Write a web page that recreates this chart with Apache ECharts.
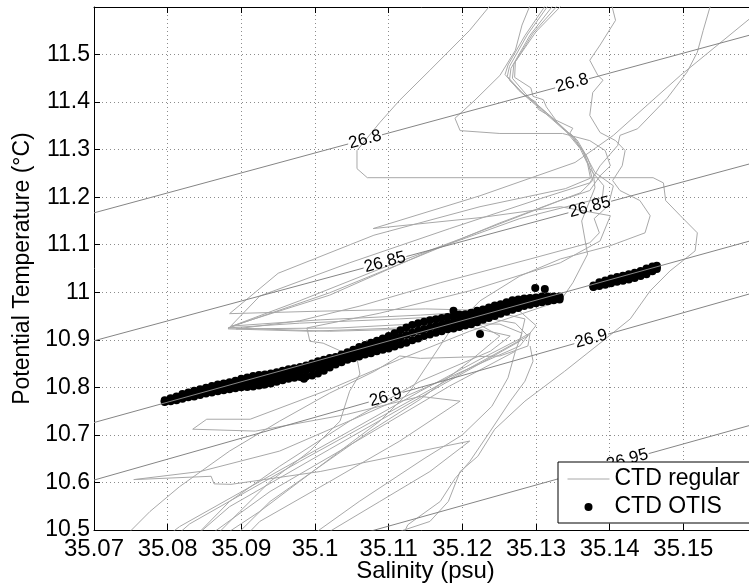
<!DOCTYPE html>
<html><head><meta charset="utf-8">
<script src="https://cdn.jsdelivr.net/npm/echarts@6/dist/echarts.min.js"></script>
<style>html,body{margin:0;padding:0;background:#fff}#c{width:749px;height:587px}</style>
</head><body><div id="c"></div>
<script>
// ---- axis settings ----
const salMin = 35.07, salMax = 35.16, salStep = 0.01;
const tempMin = 10.5, tempMax = 11.6, tempStep = 0.1;

// ---- CTD regular casts (salinity, potential temperature) ----
const cast01 = [[35.1322,11.615],[35.1288,11.541],[35.1264,11.475],[35.1261,11.454],[35.1281,11.420],[35.1315,11.376],[35.1346,11.332],[35.1363,11.298],[35.1372,11.266],[35.1377,11.235],[35.1360,11.209],[35.1251,11.146],[35.1143,11.077],[35.1020,10.999],[35.0882,10.925],[35.0979,10.935],[35.1115,10.944],[35.1210,10.952],[35.1272,10.935],[35.1289,10.908],[35.1148,10.788],[35.0979,10.644],[35.0830,10.513],[35.0810,10.486]];
const cast02 = [[35.1329,11.615],[35.1292,11.541],[35.1266,11.471],[35.1264,11.446],[35.1285,11.414],[35.1300,11.400],[35.1303,11.385],[35.1319,11.370],[35.1349,11.328],[35.1365,11.294],[35.1373,11.260],[35.1392,11.224],[35.1390,11.199],[35.1278,11.155],[35.1156,11.087],[35.1020,10.994],[35.0887,10.929],[35.1007,10.942],[35.1143,10.952],[35.1238,10.961],[35.1285,10.944],[35.1278,10.897],[35.1170,10.803],[35.1020,10.670],[35.0884,10.549],[35.0837,10.486]];
const cast03 = [[35.1336,11.615],[35.1296,11.545],[35.1270,11.480],[35.1268,11.450],[35.1289,11.412],[35.1323,11.366],[35.1353,11.323],[35.1368,11.287],[35.1380,11.252],[35.1405,11.224],[35.1398,11.182],[35.1379,11.155],[35.1386,11.125],[35.1373,11.104],[35.1292,11.070],[35.1170,11.020],[35.1061,10.971],[35.0979,10.940],[35.0893,10.923],[35.1034,10.925],[35.1156,10.935],[35.1251,10.933],[35.1281,10.914],[35.1272,10.876],[35.1183,10.803],[35.1061,10.691],[35.0939,10.581],[35.0864,10.497],[35.0857,10.481]];
const cast04 = [[35.1244,11.615],[35.1210,11.551],[35.1156,11.467],[35.1115,11.404],[35.1088,11.357],[35.1068,11.319],[35.1057,11.298],[35.1057,11.260],[35.1071,11.241],[35.1224,11.241],[35.1387,11.241],[35.1459,11.241],[35.1473,11.230],[35.1476,11.193],[35.1496,11.161],[35.1519,11.125],[35.1516,11.087],[35.1482,11.045],[35.1455,11.003],[35.1428,10.944],[35.1387,10.893],[35.1339,10.834],[35.1285,10.771],[35.1244,10.712],[35.1221,10.655],[35.1197,10.623],[35.1181,10.560],[35.1156,10.518],[35.1115,10.497],[35.1102,10.486]];
const cast05 = [[35.1604,11.593],[35.1496,11.456],[35.1405,11.330],[35.1353,11.273],[35.1224,11.203],[35.1079,11.134],[35.1224,11.157],[35.1333,11.180],[35.1401,11.161],[35.1387,11.108],[35.1333,11.062],[35.1210,11.003],[35.1088,10.956],[35.0989,10.925],[35.0993,10.897],[35.1011,10.893],[35.1057,10.861],[35.1061,10.828],[35.1047,10.792],[35.1034,10.729],[35.0993,10.666],[35.0939,10.602],[35.0898,10.539],[35.0871,10.497],[35.0860,10.476]];
const cast06 = [[35.1401,11.615],[35.1408,11.572],[35.1387,11.520],[35.1373,11.488],[35.1384,11.456],[35.1391,11.446],[35.1377,11.420],[35.1373,11.372],[35.1387,11.336],[35.1408,11.319],[35.1421,11.298],[35.1417,11.266],[35.1404,11.235],[35.1414,11.214],[35.1441,11.193],[35.1455,11.161],[35.1448,11.125],[35.1401,11.098],[35.1333,11.070],[35.1278,11.034],[35.1224,10.982],[35.1183,10.918],[35.1156,10.855],[35.1129,10.792],[35.1088,10.729],[35.1034,10.666],[35.0979,10.602],[35.0925,10.539],[35.0884,10.497],[35.0878,10.476]];
const cast07 = [[35.1539,11.615],[35.1527,11.551],[35.1519,11.505],[35.1505,11.463],[35.1478,11.408],[35.1438,11.344],[35.1414,11.330],[35.1411,11.309],[35.1387,11.266],[35.1373,11.230],[35.1306,11.197],[35.1183,11.134],[35.1047,11.062],[35.0925,10.992],[35.0882,10.923],[35.0993,10.918],[35.1115,10.925],[35.1224,10.931],[35.1251,10.908],[35.1210,10.855],[35.1143,10.775],[35.1075,10.708],[35.1007,10.634],[35.0939,10.560],[35.0898,10.497],[35.0887,10.476]];
const cast08 = [[35.1342,11.615],[35.1300,11.548],[35.1272,11.485],[35.1271,11.452],[35.1293,11.430],[35.1296,11.412],[35.1310,11.405],[35.1314,11.390],[35.1327,11.362],[35.1350,11.345],[35.1346,11.335],[35.1356,11.320],[35.1370,11.283],[35.1378,11.248],[35.1380,11.220],[35.1362,11.150],[35.1370,11.080],[35.1350,11.020],[35.1333,10.982],[35.1210,10.918],[35.1115,10.859],[35.1020,10.796],[35.0912,10.733],[35.0853,10.733],[35.0834,10.712],[35.0919,10.708],[35.1043,10.743],[35.1143,10.781],[35.1197,10.771],[35.1115,10.687],[35.1020,10.602],[35.0925,10.518],[35.0905,10.486]];
const cast09 = [[35.1318,11.615],[35.1285,11.540],[35.1262,11.478],[35.1258,11.458],[35.1277,11.424],[35.1310,11.380],[35.1342,11.336],[35.1360,11.302],[35.1370,11.270],[35.1374,11.240],[35.1340,11.218],[35.1224,11.180],[35.1080,11.120],[35.0950,11.040],[35.0884,10.955],[35.1000,10.960],[35.1150,10.965],[35.1278,10.960],[35.1300,10.930],[35.1278,10.887],[35.1170,10.813],[35.1061,10.739],[35.0952,10.666],[35.0844,10.623],[35.0754,10.606],[35.0859,10.613],[35.0863,10.597],[35.0886,10.596],[35.1007,10.623],[35.1143,10.666],[35.1210,10.687],[35.1156,10.623],[35.1088,10.560],[35.1020,10.497],[35.1009,10.476]];
const cast10 = [[35.0790,10.476],[35.0816,10.507],[35.0925,10.602],[35.1047,10.708],[35.1143,10.792],[35.1224,10.859],[35.1278,10.902],[35.1292,10.914],[35.1289,10.887],[35.1251,10.866],[35.1143,10.861],[35.1115,10.866],[35.1081,10.834],[35.1020,10.788],[35.0952,10.729],[35.0884,10.666],[35.0816,10.591],[35.0776,10.539],[35.0749,10.497],[35.0735,10.476]];
const cast11 = [[35.1115,10.476],[35.1126,10.511],[35.1170,10.560],[35.1190,10.608],[35.1210,10.644],[35.1238,10.708],[35.1265,10.771],[35.1285,10.813],[35.1296,10.855],[35.1292,10.887]];
const cast12 = [[35.1295,11.615],[35.1281,11.562],[35.1272,11.509],[35.1251,11.456],[35.1217,11.404],[35.1190,11.366],[35.1197,11.340],[35.1251,11.334],[35.1336,11.334],[35.1373,11.319],[35.1394,11.298],[35.1401,11.266],[35.1387,11.245],[35.1373,11.214],[35.1333,11.193],[35.1197,11.112],[35.1088,11.049],[35.0979,10.982],[35.0898,10.935],[35.0884,10.925],[35.1020,10.918],[35.1143,10.923],[35.1210,10.927],[35.1265,10.908],[35.1238,10.876],[35.1143,10.813],[35.1047,10.729],[35.0952,10.634],[35.0884,10.560],[35.0844,10.497],[35.0837,10.476]];
const cast13 = [[35.0995,10.476],[35.1003,10.497],[35.1060,10.560],[35.1148,10.650],[35.1200,10.700],[35.1240,10.760],[35.1262,10.820],[35.1272,10.876]];
const ctdCasts = [cast01,cast02,cast03,cast04,cast05,cast06,cast07,cast08,cast09,cast10,cast11,cast12,cast13];

// ---- CTD OTIS samples: main band (salinity columns, low / mid / high temperature) ----
const otisSal = [35.0796,35.0804,35.0812,35.0820,35.0828,35.0836,35.0844,35.0852,35.0860,35.0868,
35.0876,35.0884,35.0892,35.0900,35.0908,35.0916,35.0924,35.0932,35.0940,35.0948,
35.0956,35.0964,35.0972,35.0980,35.0988,35.0996,35.1004,35.1012,35.1020,35.1028,
35.1036,35.1044,35.1052,35.1060,35.1068,35.1076,35.1084,35.1092,35.1100,35.1108,
35.1116,35.1124,35.1132,35.1140,35.1148,35.1156,35.1164,35.1172,35.1180,35.1188,
35.1196,35.1204,35.1212,35.1220,35.1228,35.1236,35.1244,35.1252,35.1260,35.1268,
35.1276,35.1284,35.1292,35.1300,35.1308,35.1316,35.1324,35.1332];
const otisTempLow = [10.769,10.771,10.773,10.776,10.779,10.781,10.784,10.787,10.789,10.792,
10.794,10.796,10.798,10.800,10.801,10.802,10.804,10.806,10.808,10.812,
10.815,10.818,10.820,10.822,10.823,10.825,10.829,10.835,10.842,10.848,
10.853,10.858,10.861,10.865,10.869,10.872,10.876,10.879,10.882,10.886,
10.890,10.894,10.899,10.903,10.908,10.911,10.915,10.918,10.922,10.924,
10.927,10.930,10.933,10.937,10.942,10.946,10.950,10.955,10.959,10.963,
10.967,10.971,10.974,10.977,10.979,10.981,10.983,10.985];
const otisTempMid = [10.771,10.774,10.777,10.781,10.784,10.787,10.790,10.793,10.796,10.799,
10.801,10.803,10.806,10.809,10.811,10.813,10.815,10.817,10.819,10.822,
10.825,10.828,10.830,10.833,10.836,10.839,10.843,10.847,10.852,10.856,
10.861,10.866,10.870,10.875,10.879,10.883,10.887,10.891,10.895,10.900,
10.905,10.910,10.915,10.919,10.923,10.926,10.929,10.932,10.935,10.937,
10.940,10.942,10.945,10.949,10.953,10.957,10.961,10.965,10.969,10.973,
10.976,10.979,10.981,10.983,10.985,10.986,10.987,10.988];
const otisTempHigh = [10.773,10.777,10.781,10.786,10.789,10.793,10.796,10.799,10.803,10.806,
10.808,10.811,10.814,10.818,10.821,10.824,10.826,10.827,10.829,10.832,
10.835,10.838,10.840,10.843,10.846,10.850,10.855,10.858,10.862,10.864,
10.869,10.874,10.879,10.885,10.889,10.894,10.898,10.903,10.908,10.914,
10.920,10.926,10.931,10.935,10.938,10.941,10.943,10.946,10.948,10.950,
10.953,10.954,10.957,10.961,10.964,10.968,10.972,10.975,10.979,10.983,
10.985,10.987,10.988,10.989,10.991,10.991,10.991,10.991];
// second (saltier) OTIS cluster
const otis2Sal = [35.1378,35.1386,35.1394,35.1402,35.1410,35.1418,35.1426,35.1434,35.1442,35.1450,35.1458,35.1464];
const otis2TempLow = [11.011,11.013,11.016,11.019,11.022,11.024,11.027,11.030,11.034,11.038,11.044,11.049];
const otis2TempMid = [11.012,11.017,11.020,11.024,11.027,11.030,11.032,11.035,11.039,11.044,11.049,11.053];
const otis2TempHigh = [11.014,11.021,11.025,11.029,11.032,11.035,11.038,11.041,11.045,11.050,11.054,11.056];
const otisStray = [[35.1188,10.961],[35.1224,10.912],[35.1299,11.009],[35.1312,11.007],[35.0985,10.818],[35.0930,10.806]];

// ---- isopycnals (sigma-theta), broken where labelled ----
const iso2680 = [[35.07,11.167],[35.1045,11.3119],['-','-'],[35.1091,11.3312],[35.1326,11.4299],['-','-'],[35.1372,11.4492],[35.16,11.545]];
const iso2685 = [[35.07,10.898],[35.1066,11.051],['-','-'],[35.1124,11.0752],[35.1344,11.1672],['-','-'],[35.1402,11.1914],[35.16,11.2742]];
const iso26875 = [[35.07,10.726],[35.16,11.112]];
const iso2690 = [[35.07,10.605],[35.1073,10.7691],['-','-'],[35.1119,10.7894],[35.1352,10.8919],['-','-'],[35.1398,10.9121],[35.16,11.001]];
const iso2695 = [[35.1060,10.4909],[35.1395,10.6356],['-','-'],[35.1453,10.6607],[35.16,10.7242]];
const isopycnals = [iso2680, iso2685, iso26875, iso2690, iso2695];
const isoLabels = [[35.1068,11.321,'26.8'],[35.1349,11.440,'26.8'],[35.1095,11.063,'26.85'],[35.1373,11.179,'26.85'],[35.1096,10.779,'26.9'],[35.1375,10.902,'26.9'],[35.1424,10.648,'26.95']];

// ---- build ----
const FONT = '"Liberation Sans", Arial, Helvetica, sans-serif';
const TRACE = '#a8a8a8', ISO = '#858585';
const otisData = [];
otisSal.forEach((s,i)=>{ otisData.push([s,otisTempLow[i]],[s,otisTempMid[i]],[s,otisTempHigh[i]]); });
otis2Sal.forEach((s,i)=>{ otisData.push([s,otis2TempLow[i]],[s,otis2TempMid[i]],[s,otis2TempHigh[i]]); });
otisStray.forEach(p=>otisData.push(p));

const series = [];
ctdCasts.forEach(c => series.push({
  name:'CTD regular', type:'line', data:c, symbol:'none', showSymbol:false, silent:true, z:1,
  lineStyle:{color:TRACE, width:1}, itemStyle:{color:TRACE}, animation:false
}));
series.push({
  name:'CTD OTIS', type:'scatter', data:otisData, symbol:'circle', symbolSize:8, silent:true, z:2,
  itemStyle:{color:'#000', opacity:1}, animation:false
});
isopycnals.forEach((d,i) => series.push({
  name:'iso'+i, type:'line', data:d, symbol:'none', showSymbol:false, silent:true, z:3, connectNulls:false,
  lineStyle:{color:ISO, width:1}, itemStyle:{color:ISO}, animation:false
}));
series.push({
  name:'isoLabels', type:'scatter', data:isoLabels, symbolSize:1, silent:true, z:4,
  itemStyle:{color:'#fff', opacity:1},
  label:{show:true, position:'inside', formatter:p=>p.value[2], rotate:15, fontSize:17, color:'#000',
    fontFamily:FONT, textBorderWidth:0, opacity:1},
  animation:false
});

const axisCommon = {
  axisLine:{show:true, onZero:false, lineStyle:{color:'#000', width:1}},
  axisTick:{show:true, inside:true, length:6, lineStyle:{color:'#000'}},
};
const option = {
  animation:false,
  backgroundColor:'#fff',
  grid:{left:94, right:-8, top:7, bottom:57, containLabel:false, outerBoundsMode:'none'},
  legend:{
    orient:'vertical', left:558, top:462, itemWidth:42, itemHeight:8, itemGap:4,
    padding:[5,24,4,9], backgroundColor:'#fff', borderColor:'#000', borderWidth:1, borderRadius:0,
    textStyle:{fontSize:23, color:'#000', fontFamily:FONT, lineHeight:24},
    data:[
      {name:'CTD regular', itemStyle:{color:'rgba(0,0,0,0)', opacity:0, borderWidth:0}, lineStyle:{color:TRACE, width:1, opacity:1}},
      {name:'CTD OTIS', icon:'circle'}
    ],
    selectedMode:false, z:10
  },
  xAxis:[
    Object.assign({type:'value', min:salMin, max:salMax, interval:salStep, position:'bottom',
      axisLabel:{fontSize:24, color:'#000', fontFamily:FONT, margin:7, showMaxLabel:false, showMinLabel:true},
      splitLine:{show:true, lineStyle:{color:'#8c8c8c', width:1, type:[1,3]}},
      name:'Salinity (psu)', nameLocation:'middle', nameGap:29, nameMoveOverlap:false,
      nameTextStyle:{fontSize:24, color:'#000', fontFamily:FONT, lineHeight:24}}, axisCommon),
    Object.assign({type:'value', min:salMin, max:salMax, interval:salStep, position:'top',
      axisLabel:{show:false}, splitLine:{show:false}}, axisCommon)
  ],
  yAxis:[
    Object.assign({type:'value', min:tempMin, max:tempMax, interval:tempStep, position:'left',
      axisLabel:{fontSize:23, color:'#000', fontFamily:FONT, margin:4, showMaxLabel:false, showMinLabel:true},
      splitLine:{show:true, lineStyle:{color:'#8c8c8c', width:1, type:[1,3]}},
      name:'Potential Temperature (°C)', nameLocation:'middle', nameGap:57, nameRotate:90,
      nameTextStyle:{fontSize:23, color:'#000', fontFamily:FONT}}, axisCommon)
  ],
  series
};
const chart = echarts.init(document.getElementById('c'), null, {renderer:'canvas'});
chart.setOption(option);
</script></body></html>
